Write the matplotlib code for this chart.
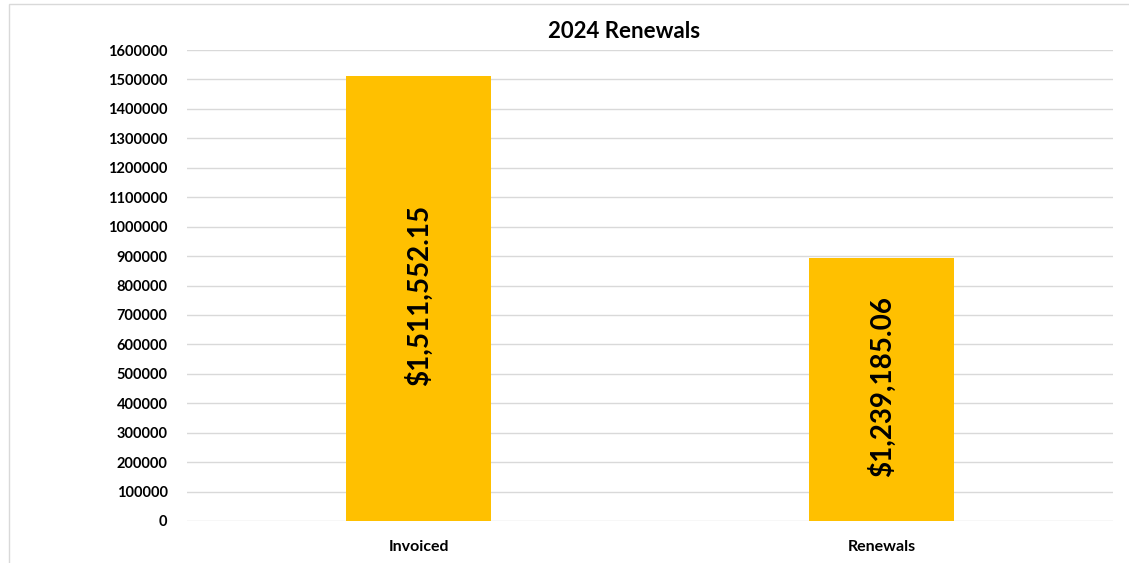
import matplotlib.pyplot as plt
from matplotlib.patches import Rectangle

categories = ["Invoiced", "Renewals"]
values = [1511552.15, 893000]
bar_labels = ["$1,511,552.15", "$1,239,185.06"]
y_ticks = list(range(0, 1600001, 100000))

plt.rcParams["font.family"] = ["Lato", "DejaVu Sans"]
plt.rcParams["font.weight"] = "bold"

fig = plt.figure(figsize=(11.29, 5.63), dpi=100)
ax = fig.add_axes([187 / 1129, 1 - 521 / 563, 926 / 1129, 471 / 563])

# chart frame
fig.patches.append(
    Rectangle((9 / 1129, -0.1), 1.2, 1 - 4 / 563 + 0.1,
              transform=fig.transFigure, fill=False,
              edgecolor="#D9D9D9", linewidth=1)
)

x = range(len(categories))
ax.bar(x, values, width=0.315, color="#FFC000", zorder=2)

for xi, v, lab in zip(x, values, bar_labels):
    ax.text(xi, v / 2 + 10000, lab, rotation=90, ha="center", va="center",
            fontsize=20, fontweight="bold", color="black", zorder=3)

ax.set_xlim(-0.5, 1.5)
ax.set_ylim(0, 1600000)
ax.set_yticks(y_ticks)
ax.set_yticklabels([str(t) for t in y_ticks], fontsize=10.5, fontweight="bold")
ax.set_xticks(list(x))
ax.set_xticklabels(categories, fontsize=11.5, fontweight="bold")

ax.grid(axis="y", color="#D9D9D9", linewidth=1, zorder=0)
ax.set_axisbelow(True)
for s in ax.spines.values():
    s.set_visible(False)
ax.tick_params(axis="both", length=0)
ax.tick_params(axis="y", pad=14)
ax.tick_params(axis="x", pad=14)

fig.text(624 / 1129, 1 - 32 / 563, "2024 Renewals", ha="center", va="center",
         fontsize=16, fontweight="bold")

fig.savefig("out.png", dpi=100)
